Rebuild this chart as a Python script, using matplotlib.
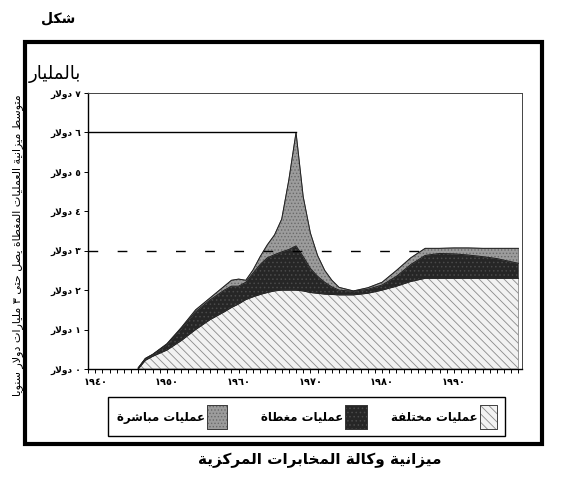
import numpy as np
import matplotlib
matplotlib.use("Agg")
import matplotlib.pyplot as plt
from matplotlib.patches import Rectangle

# ---------------- data ----------------
years = [1946, 1947, 1948, 1950, 1952, 1954, 1956, 1958, 1959, 1960, 1961, 1962,
         1963, 1964, 1965, 1966, 1967, 1968, 1969, 1970, 1971, 1972, 1973, 1974,
         1976, 1978, 1980, 1982, 1984, 1986, 1988, 1990, 1992, 1994, 1996, 1999]
misc_ops = [0.00, 0.22, 0.32, 0.48, 0.72, 1.00, 1.25, 1.45, 1.56, 1.65, 1.76, 1.83,
            1.89, 1.94, 1.98, 2.00, 2.00, 2.00, 1.98, 1.94, 1.92, 1.90, 1.89, 1.88,
            1.88, 1.92, 2.00, 2.10, 2.22, 2.30, 2.30, 2.30, 2.30, 2.30, 2.30, 2.30]
covert_ops = [0.02, 0.04, 0.04, 0.14, 0.30, 0.45, 0.50, 0.55, 0.54, 0.45, 0.44, 0.60,
              0.76, 0.88, 0.92, 0.97, 1.03, 1.12, 0.87, 0.61, 0.43, 0.30, 0.19, 0.12,
              0.09, 0.10, 0.13, 0.25, 0.43, 0.58, 0.63, 0.62, 0.59, 0.55, 0.50, 0.38]
direct_ops = [0.01, 0.01, 0.01, 0.02, 0.03, 0.05, 0.05, 0.10, 0.15, 0.18, 0.05, 0.08,
              0.20, 0.33, 0.50, 0.83, 1.77, 2.88, 1.52, 0.90, 0.53, 0.30, 0.17, 0.07,
              0.01, 0.04, 0.07, 0.15, 0.17, 0.18, 0.13, 0.15, 0.18, 0.21, 0.26, 0.38]
series_labels = ["عمليات مختلفة", "عمليات مغطاة", "عمليات مباشرة"]
x_ticks = [1940, 1950, 1960, 1970, 1980, 1990]
x_tick_labels = ["١٩٤٠", "١٩٥٠", "١٩٦٠", "١٩٧٠", "١٩٨٠", "١٩٩٠"]
y_ticks = [0, 1, 2, 3, 4, 5, 6, 7]
y_tick_labels = ["٠ دولار", "١ دولار", "٢ دولار", "٣ دولار", "٤ دولار", "٥ دولار",
                 "٦ دولار", "٧ دولار"]
covert_level = 3
fig_label = "شكل"
unit_label = "بالمليار"
y_title = "متوسط ميزانية العمليات المغطاة يصل حتى ٣ مليارات دولار سنويا"
caption = "ميزانية وكالة المخابرات المركزية"

# ------------- minimal Arabic shaping (presentation forms + visual order) -------------
FORMS = {
    '\u0627': ('\uFE8D', '\uFE8E', None, None),
    '\u0623': ('\uFE83', '\uFE84', None, None),
    '\u0625': ('\uFE87', '\uFE88', None, None),
    '\u0622': ('\uFE81', '\uFE82', None, None),
    '\u0628': ('\uFE8F', '\uFE90', '\uFE91', '\uFE92'),
    '\u0629': ('\uFE93', '\uFE94', None, None),
    '\u062A': ('\uFE95', '\uFE96', '\uFE97', '\uFE98'),
    '\u062B': ('\uFE99', '\uFE9A', '\uFE9B', '\uFE9C'),
    '\u062C': ('\uFE9D', '\uFE9E', '\uFE9F', '\uFEA0'),
    '\u062D': ('\uFEA1', '\uFEA2', '\uFEA3', '\uFEA4'),
    '\u062E': ('\uFEA5', '\uFEA6', '\uFEA7', '\uFEA8'),
    '\u062F': ('\uFEA9', '\uFEAA', None, None),
    '\u0630': ('\uFEAB', '\uFEAC', None, None),
    '\u0631': ('\uFEAD', '\uFEAE', None, None),
    '\u0632': ('\uFEAF', '\uFEB0', None, None),
    '\u0633': ('\uFEB1', '\uFEB2', '\uFEB3', '\uFEB4'),
    '\u0634': ('\uFEB5', '\uFEB6', '\uFEB7', '\uFEB8'),
    '\u0635': ('\uFEB9', '\uFEBA', '\uFEBB', '\uFEBC'),
    '\u0636': ('\uFEBD', '\uFEBE', '\uFEBF', '\uFEC0'),
    '\u0637': ('\uFEC1', '\uFEC2', '\uFEC3', '\uFEC4'),
    '\u0638': ('\uFEC5', '\uFEC6', '\uFEC7', '\uFEC8'),
    '\u0639': ('\uFEC9', '\uFECA', '\uFECB', '\uFECC'),
    '\u063A': ('\uFECD', '\uFECE', '\uFECF', '\uFED0'),
    '\u0641': ('\uFED1', '\uFED2', '\uFED3', '\uFED4'),
    '\u0642': ('\uFED5', '\uFED6', '\uFED7', '\uFED8'),
    '\u0643': ('\uFED9', '\uFEDA', '\uFEDB', '\uFEDC'),
    '\u0644': ('\uFEDD', '\uFEDE', '\uFEDF', '\uFEE0'),
    '\u0645': ('\uFEE1', '\uFEE2', '\uFEE3', '\uFEE4'),
    '\u0646': ('\uFEE5', '\uFEE6', '\uFEE7', '\uFEE8'),
    '\u0647': ('\uFEE9', '\uFEEA', '\uFEEB', '\uFEEC'),
    '\u0648': ('\uFEED', '\uFEEE', None, None),
    '\u0649': ('\uFEEF', '\uFEF0', None, None),
    '\u064A': ('\uFEF1', '\uFEF2', '\uFEF3', '\uFEF4'),
}


def _joins_left(c):
    return c in FORMS and FORMS[c][2] is not None


def ar(text):
    chars = list(text)
    n = len(chars)
    out = []
    i = 0
    while i < n:
        c = chars[i]
        prev = chars[i - 1] if i > 0 else None
        cp = prev is not None and _joins_left(prev)
        if c == '\u0644' and i + 1 < n and chars[i + 1] == '\u0627':
            out.append('\uFEFC' if cp else '\uFEFB')
            i += 2
            continue
        if c not in FORMS:
            out.append(c)
            i += 1
            continue
        nxt = chars[i + 1] if i + 1 < n else None
        cn = _joins_left(c) and nxt is not None and nxt in FORMS
        iso, fin, ini, med = FORMS[c]
        if cp and cn:
            out.append(med)
        elif cp:
            out.append(fin)
        elif cn:
            out.append(ini)
        else:
            out.append(iso)
        i += 1
    runs = []
    for ch in out:
        d = ch.isdigit()
        if runs and runs[-1][0] == d:
            runs[-1][1].append(ch)
        else:
            runs.append([d, [ch]])
    vis = ''
    for d, cs in reversed(runs):
        vis += ''.join(cs if d else reversed(cs))
    return vis


# ---------------- figure ----------------
W, H = 567, 484
fig = plt.figure(figsize=(W / 100, H / 100), dpi=100)
fig.patch.set_facecolor("white")
plt.rcParams['font.family'] = ['DejaVu Sans']
plt.rcParams['hatch.linewidth'] = 0.6


def fx(px):
    return px / W


def fy(py):
    return 1 - py / H


ax = fig.add_axes([fx(88), fy(369), fx(522) - fx(88), fy(93) - fy(369)])

colls = ax.stackplot(years, misc_ops, covert_ops, direct_ops,
                     colors=['#f2f2f2', '#262626', '#9c9c9c'],
                     edgecolor='black', linewidth=0.6)
colls[0].set_hatch('\\\\\\\\')
colls[0].set_edgecolor('#8a8a8a')
colls[1].set_hatch('....')
colls[1].set_edgecolor('#4a4a4a')
colls[2].set_hatch('.....')
colls[2].set_edgecolor('#6a6a6a')

# outline boundaries
cum = np.cumsum(np.vstack([misc_ops, covert_ops, direct_ops]), axis=0)
for row in cum:
    ax.plot(years, row, color='#222222', linewidth=0.7)

# peak marker line and covert level dashed line
total = cum[-1]
ipk = int(np.argmax(total))
ax.plot([1939, years[ipk]], [total[ipk], total[ipk]], color='black', linewidth=1.0)
cross = next(years[i] for i in range(ipk + 1, len(years)) if total[i] >= covert_level
             and years[i] > 1975)
ax.plot([1939, cross], [covert_level, covert_level], color='black', linewidth=1.0,
        dashes=(7, 14))

ax.set_xlim(1939, 1999.5)
ax.set_ylim(0, 7)
ax.set_xticks(x_ticks)
ax.set_xticklabels(x_tick_labels, fontsize=7, fontweight='bold')
ax.set_xticks(list(range(1939, 2000)), minor=True)
ax.set_yticks(y_ticks)
ax.set_yticklabels([ar(t) for t in y_tick_labels], fontsize=6.5, fontweight='bold')
ax.tick_params(axis='x', which='both', direction='out', length=3, width=0.7, pad=3)
ax.tick_params(axis='y', direction='out', length=3, width=0.7, pad=2)
for s in ['left', 'bottom']:
    ax.spines[s].set_linewidth(1.0)
for s in ['top', 'right']:
    ax.spines[s].set_linewidth(0.7)
    ax.spines[s].set_color('#444444')

# texts
fig.text(fx(58), fy(18), ar(fig_label), ha='center', va='center', fontsize=10,
         fontweight='bold')
fig.text(fx(55), fy(74), ar(unit_label), ha='center', va='center', fontsize=13)
fig.text(fx(18), fy(245), ar(y_title), ha='center', va='center', rotation=90,
         fontsize=8)
fig.text(fx(320), fy(460), ar(caption), ha='center', va='center', fontsize=11,
         fontweight='bold')

# outer heavy frame
fig.add_artist(Rectangle((fx(25), fy(444)), fx(542) - fx(25), fy(42) - fy(444),
                         transform=fig.transFigure, fill=False, linewidth=3,
                         edgecolor='black'))

# legend box
fig.add_artist(Rectangle((fx(108), fy(436)), fx(505) - fx(108), fy(397) - fy(436),
                         transform=fig.transFigure, fill=False, linewidth=1,
                         edgecolor='black'))
leg_boxes = [(480, 497), (345, 367), (207, 227)]
leg_face = ['#f2f2f2', '#262626', '#9c9c9c']
leg_hatch = ['\\\\\\\\', '....', '.....']
leg_hcol = ['#8a8a8a', '#4a4a4a', '#6a6a6a']
for (x0, x1), fc, hh, hc, lab in zip(leg_boxes, leg_face, leg_hatch, leg_hcol,
                                      series_labels):
    fig.add_artist(Rectangle((fx(x0), fy(429)), fx(x1) - fx(x0), fy(405) - fy(429),
                             transform=fig.transFigure, facecolor=fc, hatch=hh,
                             edgecolor=hc, linewidth=0.6))
    fig.add_artist(Rectangle((fx(x0), fy(429)), fx(x1) - fx(x0), fy(405) - fy(429),
                             transform=fig.transFigure, fill=False,
                             edgecolor='#333333', linewidth=0.6))
    fig.text(fx(x0 - 2), fy(417), ar(lab), ha='right', va='center', fontsize=8.5,
             fontweight='bold')

fig.savefig("out.png", dpi=100, facecolor='white')
